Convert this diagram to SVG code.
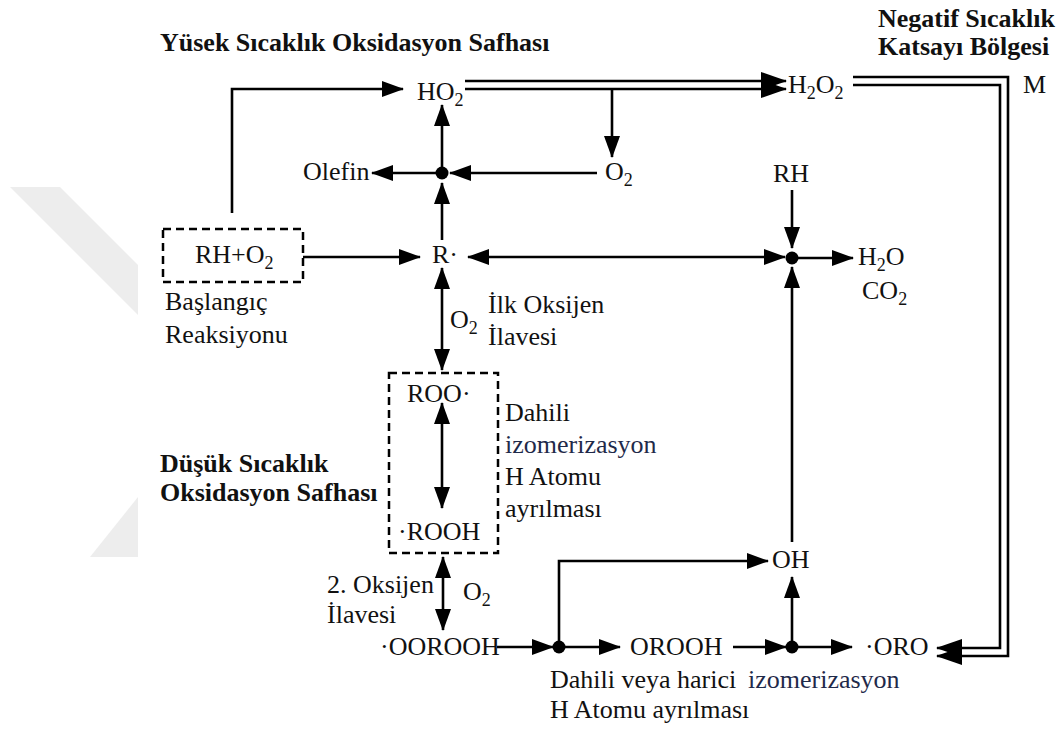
<svg xmlns="http://www.w3.org/2000/svg" width="1060" height="729" viewBox="0 0 1060 729">
<defs>
<style>
text{font-family:"Liberation Serif","Times New Roman",serif;font-size:26px;fill:#111}
.b{font-weight:bold}
.s{font-size:18px}
.c{fill:none;stroke:#000;stroke-width:2.6}
.box{fill:none;stroke:#000;stroke-width:2.5;stroke-dasharray:8 5}
.dot{fill:#000}
.wm{fill:#ededed}
.iz{fill:#1f2a4a}
</style>
<marker id="ah" viewBox="0 0 22 16" refX="21" refY="8" markerWidth="22" markerHeight="16" markerUnits="userSpaceOnUse" orient="auto-start-reverse">
<path d="M0,0 L22,8 L0,16 z" fill="#000"/>
</marker>
<marker id="ah2" viewBox="0 0 26 18" refX="25" refY="9" markerWidth="26" markerHeight="18" markerUnits="userSpaceOnUse" orient="auto">
<path d="M0,0 L26,9 L0,18 z" fill="#000"/>
</marker>
</defs>
<rect width="1060" height="729" fill="#fff"/>
<g id="watermark">
<polygon class="wm" points="10,187 60,187 138,265 138,315"/>
<polygon class="wm" points="90,557 138,497 138,557"/>
</g>
<g id="connectors">
<path class="c" d="M232,213 V89 H403" marker-end="url(#ah)"/>
<path class="c" d="M465,81 H786" marker-end="url(#ah2)"/>
<path class="c" d="M465,89 H786" marker-end="url(#ah2)"/>
<path class="c" d="M612,89 V157" marker-end="url(#ah)"/>
<path class="c" d="M597,173 H450" marker-end="url(#ah)"/>
<path class="c" d="M442,173 H372" marker-end="url(#ah)"/>
<path class="c" d="M442,173 V105" marker-end="url(#ah)"/>
<path class="c" d="M442,240 V183" marker-end="url(#ah)"/>
<path class="c" d="M303,257 H420" marker-end="url(#ah)"/>
<path class="c" d="M468,257 H785" marker-start="url(#ah)" marker-end="url(#ah)"/>
<path class="c" d="M442,268 V370" marker-start="url(#ah)" marker-end="url(#ah)"/>
<path class="c" d="M442,403 V508" marker-start="url(#ah)" marker-end="url(#ah)"/>
<path class="c" d="M443,557 V630" marker-start="url(#ah)" marker-end="url(#ah)"/>
<path class="c" d="M792,190 V248" marker-end="url(#ah)"/>
<path class="c" d="M792,258 H853" marker-end="url(#ah)"/>
<path class="c" d="M792,542 V267" marker-end="url(#ah)"/>
<path class="c" d="M497,647 H553" marker-end="url(#ah)"/>
<path class="c" d="M559,647 H620" marker-end="url(#ah)"/>
<path class="c" d="M559,647 V561 H768" marker-end="url(#ah)"/>
<path class="c" d="M733,647 H786" marker-end="url(#ah)"/>
<path class="c" d="M792,647 H852" marker-end="url(#ah)"/>
<path class="c" d="M792,647 V577" marker-end="url(#ah)"/>
<path class="c" d="M853,77 H1008 V656 H937" marker-end="url(#ah2)"/>
<path class="c" d="M853,85 H1000 V648 H937" marker-end="url(#ah2)"/>
<circle class="dot" cx="442" cy="173" r="6.5"/>
<circle class="dot" cx="792" cy="258" r="6.5"/>
<circle class="dot" cx="559" cy="647" r="6.5"/>
<circle class="dot" cx="792" cy="647" r="6.5"/>
</g>
<g id="title-high"><text class="b" x="160" y="51">Yüsek Sıcaklık Oksidasyon Safhası</text></g>
<g id="title-neg">
<text class="b" x="878" y="27">Negatif Sıcaklık</text>
<text class="b" x="878" y="55">Katsayı Bölgesi</text>
</g>
<g id="title-low">
<text class="b" x="160" y="472">Düşük Sıcaklık</text>
<text class="b" x="160" y="501">Oksidasyon Safhası</text>
</g>
<g id="HO2"><text x="417" y="100">HO<tspan class="s" dy="6">2</tspan></text></g>
<g id="H2O2"><text x="788" y="93">H<tspan class="s" dy="6">2</tspan><tspan dy="-6">O</tspan><tspan class="s" dy="6">2</tspan></text></g>
<g id="M"><text x="1023" y="93">M</text></g>
<g id="Olefin"><text x="303" y="180">Olefin</text></g>
<g id="O2top"><text x="605" y="180">O<tspan class="s" dy="6">2</tspan></text></g>
<g id="RH"><text x="773" y="182">RH</text></g>
<g id="RHO2">
<rect class="box" x="163" y="229" width="140" height="53"/>
<text x="195" y="263">RH+O<tspan class="s" dy="6">2</tspan></text>
<text x="165" y="310">Başlangıç</text>
<text x="165" y="343">Reaksiyonu</text>
</g>
<g id="R"><text x="432" y="263">R·</text></g>
<g id="H2O-CO2">
<text x="858" y="265">H<tspan class="s" dy="6">2</tspan><tspan dy="-6">O</tspan></text>
<text x="862" y="299">CO<tspan class="s" dy="6">2</tspan></text>
</g>
<g id="first-O2">
<text x="450" y="328">O<tspan class="s" dy="6">2</tspan></text>
<text x="488" y="313">İlk Oksijen</text>
<text x="488" y="345">İlavesi</text>
</g>
<g id="ROO-box">
<rect class="box" x="389" y="373" width="109" height="180"/>
<text x="407" y="402">ROO·</text>
<text x="398" y="540">·ROOH</text>
</g>
<g id="internal">
<text x="505" y="421">Dahili</text>
<text class="iz" x="505" y="453">izomerizasyon</text>
<text x="505" y="485">H Atomu</text>
<text x="505" y="517">ayrılması</text>
</g>
<g id="second-O2">
<text x="327" y="593">2. Oksijen</text>
<text x="327" y="623">İlavesi</text>
<text x="463" y="600">O<tspan class="s" dy="6">2</tspan></text>
</g>
<g id="OOROOH"><text x="380" y="655">·OOROOH</text></g>
<g id="OROOH"><text x="630" y="655">OROOH</text></g>
<g id="OH"><text x="772" y="568">OH</text></g>
<g id="ORO"><text x="865" y="655">·ORO</text></g>
<g id="bottom-label">
<text x="550" y="688">Dahili veya harici <tspan class="iz" x="748">izomerizasyon</tspan></text>
<text x="550" y="718">H Atomu ayrılması</text>
</g>
</svg>
